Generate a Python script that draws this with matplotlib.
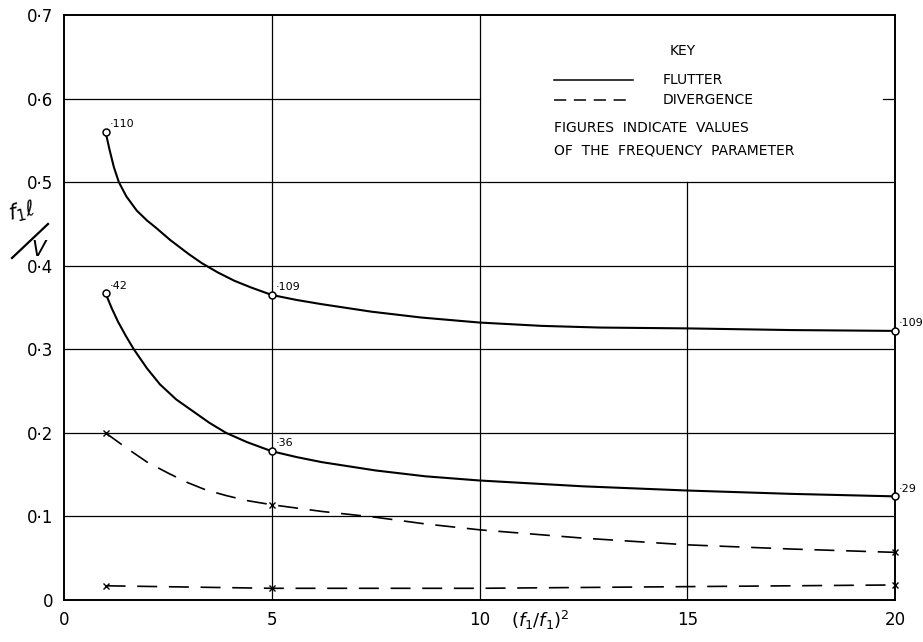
import matplotlib
matplotlib.use("Agg")
import matplotlib.pyplot as plt
from matplotlib.lines import Line2D

# ---- data ----
# marker points
pt_x = [1, 5, 20]
flutter_hi_pts = [0.56, 0.365, 0.322]
flutter_lo_pts = [0.367, 0.178, 0.124]
div_hi_pts = [0.200, 0.114, 0.057]
div_lo_pts = [0.017, 0.014, 0.018]

# curve traces
flutter_hi_x = [1, 1.1, 1.2, 1.32, 1.5, 1.75, 2.0, 2.2, 2.55, 3.0, 3.32, 3.7, 4.1, 4.5, 5,
                5.6, 6.2, 7.4, 8.6, 10, 11.5, 12.9, 15, 17.5, 20]
flutter_hi_y = [0.56, 0.538, 0.518, 0.50, 0.483, 0.466, 0.454, 0.446, 0.431, 0.414, 0.403,
                0.392, 0.382, 0.374, 0.365, 0.359, 0.354, 0.345, 0.338, 0.332, 0.328,
                0.326, 0.325, 0.323, 0.322]
flutter_lo_x = [1, 1.15, 1.3, 1.5, 1.68, 2.0, 2.31, 2.7, 3.1, 3.5, 3.9, 4.4, 5,
                5.6, 6.2, 7.5, 8.7, 10, 12.5, 15, 17.5, 20]
flutter_lo_y = [0.367, 0.349, 0.333, 0.315, 0.30, 0.277, 0.258, 0.240, 0.226, 0.212,
                0.200, 0.189, 0.178, 0.171, 0.165, 0.155, 0.148, 0.143, 0.136, 0.131,
                0.127, 0.124]
div_hi_x = [1, 1.5, 2.0, 2.5, 2.95, 3.4, 3.9, 4.4, 5, 6.2, 7.5, 8.7, 10, 12.5, 15, 17.5, 20]
div_hi_y = [0.200, 0.182, 0.165, 0.152, 0.141, 0.132, 0.125, 0.119, 0.114, 0.106, 0.099,
            0.091, 0.084, 0.074, 0.066, 0.061, 0.057]
div_lo_x = [1, 5, 10, 15, 20]
div_lo_y = [0.017, 0.014, 0.014, 0.016, 0.018]

freq_labels_hi = ["·110", "·109", "·109"]
freq_labels_lo = ["·42", "·36", "·29"]

x_ticks = [0, 5, 10, 15, 20]
x_ticklabels = ["0", "5", "10", "15", "20"]
y_ticks = [0, 0.1, 0.2, 0.3, 0.4, 0.5, 0.6, 0.7]
y_ticklabels = ["0", "0·1", "0·2", "0·3", "0·4", "0·5", "0·6", "0·7"]

key_title = "KEY"
key_solid = "FLUTTER"
key_dash = "DIVERGENCE"
key_note1 = "FIGURES  INDICATE  VALUES"
key_note2 = "OF  THE  FREQUENCY  PARAMETER"

# ---- figure ----
plt.rcParams['font.family'] = ['DejaVu Sans']
W, H = 923, 642
fig = plt.figure(figsize=(W/100, H/100), dpi=100)
ax = fig.add_axes([64/W, 1-600/H, (895-64)/W, (600-15)/H])
ax.set_xlim(0, 20)
ax.set_ylim(0, 0.7)

k = 'black'
# grid lines (partial where the key sits)
for yv in [0.1, 0.2, 0.3, 0.4, 0.5]:
    ax.plot([0, 20], [yv, yv], color=k, lw=0.9, zorder=1)
ax.plot([0, 10], [0.6, 0.6], color=k, lw=0.9, zorder=1)
ax.plot([19.7, 20], [0.6, 0.6], color=k, lw=0.9, zorder=1)
for xv in [5, 10]:
    ax.plot([xv, xv], [0, 0.7], color=k, lw=0.9, zorder=1)
ax.plot([15, 15], [0, 0.5], color=k, lw=0.9, zorder=1)

for s in ax.spines.values():
    s.set_linewidth(1.4)

# curves
ax.plot(flutter_hi_x, flutter_hi_y, color=k, lw=1.5, zorder=3)
ax.plot(flutter_lo_x, flutter_lo_y, color=k, lw=1.5, zorder=3)
ax.plot(div_hi_x, div_hi_y, color=k, lw=1.2, dashes=(12, 7), zorder=3)
ax.plot(div_lo_x, div_lo_y, color=k, lw=1.2, dashes=(12, 7), zorder=3)

# markers
ax.plot(pt_x, flutter_hi_pts, 'o', ms=5, mfc='white', mec=k, mew=1.1, zorder=4, clip_on=False)
ax.plot(pt_x, flutter_lo_pts, 'o', ms=5, mfc='white', mec=k, mew=1.1, zorder=4, clip_on=False)
ax.plot(pt_x, div_hi_pts, 'x', ms=4, color=k, mew=1.0, zorder=4, clip_on=False)
ax.plot(pt_x, div_lo_pts, 'x', ms=4, color=k, mew=1.0, zorder=4, clip_on=False)

# frequency parameter annotations
for xv, yv, t in zip(pt_x, flutter_hi_pts, freq_labels_hi):
    ax.annotate(t, (xv, yv), xytext=(3, 2), textcoords='offset points',
                fontsize=8, ha='left', va='bottom', annotation_clip=False)
for xv, yv, t in zip(pt_x, flutter_lo_pts, freq_labels_lo):
    ax.annotate(t, (xv, yv), xytext=(3, 2), textcoords='offset points',
                fontsize=8, ha='left', va='bottom', annotation_clip=False)

# ticks
ax.set_xticks(x_ticks)
ax.set_xticklabels(x_ticklabels, fontsize=12)
ax.set_yticks(y_ticks)
ax.set_yticklabels(y_ticklabels, fontsize=12)
ax.tick_params(length=0, pad=8)

# y axis label drawn as a slanted fraction  f1 l / V
fig.text(22/W, 1-212/H, r"$f_1\ell$", fontsize=15, rotation=12, ha='center', va='center')
fig.add_artist(Line2D([12/W, 48/W], [1-258/H, 1-224/H], color=k, lw=1.6))
fig.text(40/W, 1-250/H, r"$V$", fontsize=15, ha='center', va='center')

# x axis label
fig.text(540/W, 1-620/H, r"$\left(f_1/f_1\right)^2$", fontsize=13,
         ha='center', va='center')

# key
ax.text(14.9, 0.657, key_title, fontsize=10, ha='center', va='center')
ax.plot([11.8, 13.7], [0.622, 0.622], color=k, lw=1.1)
ax.text(14.4, 0.622, key_solid, fontsize=10, ha='left', va='center')
ax.plot([11.8, 13.7], [0.598, 0.598], color=k, lw=1.1, dashes=(8, 5))
ax.text(14.4, 0.598, key_dash, fontsize=10, ha='left', va='center')
ax.text(11.8, 0.565, key_note1, fontsize=10, ha='left', va='center')
ax.text(11.8, 0.538, key_note2, fontsize=10, ha='left', va='center')

fig.savefig("out.png", dpi=100)
